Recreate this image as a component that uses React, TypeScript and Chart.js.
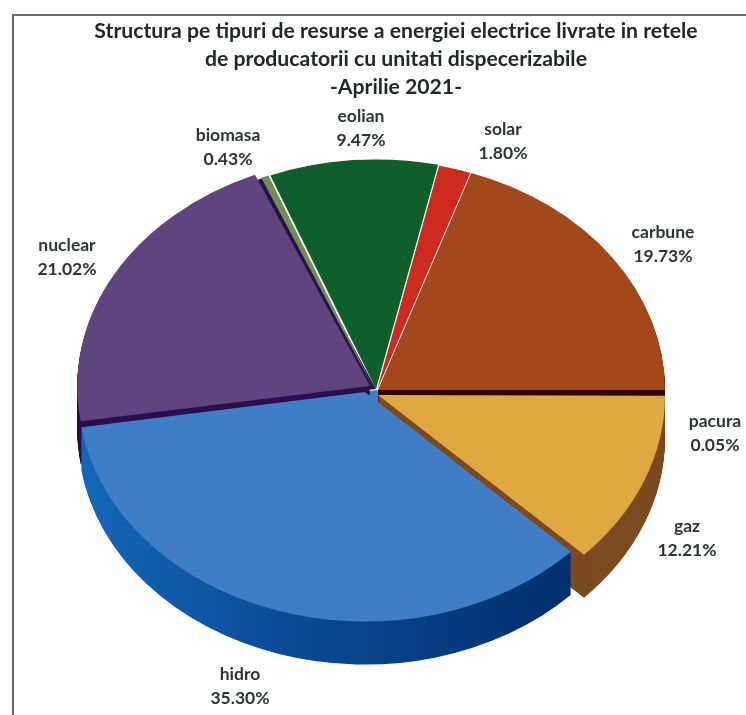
import React, { useEffect, useRef } from "react";
import { Chart, registerables } from "chart.js";

Chart.register(...registerables);

const categories = ["pacura", "gaz", "hidro", "nuclear", "biomasa", "eolian", "solar", "carbune"];
const shares = [0.05, 12.21, 35.3, 21.02, 0.43, 9.47, 1.8, 19.73];
const shareLabels = ["0.05%", "12.21%", "35.30%", "21.02%", "0.43%", "9.47%", "1.80%", "19.73%"];
const titleLines = [
  "Structura pe tipuri de resurse a energiei electrice livrate in retele",
  "de producatorii cu unitati dispecerizabile",
  "-Aprilie 2021-",
];

const topColors = ["#2a0f04", "#e0a841", "#3f7ec6", "#60447e", "#6f8f52", "#0e5f2c", "#cf2a1f", "#a4481c"];
const wallColors = ["#2a0f04", "#7b4a1f", "#0a4a96", "#2a0f50", "#3c5028", "#07361a", "#7c120c", "#300400"];

// Tilt of the pie: the circle is squashed vertically and extruded downwards.
const TILT = 0.8;
const DEPTH = 43;
const PIE_SHIFT_X = -18;
// Exploded position of each slice relative to the pie centre, in pixels.
const sliceShifts = [
  [0, 5], [0, 5], [-13, 2], [-8, -4], [-4, -1], [-2, -1], [-1, 0], [0, 0],
];
// Horizontal stretch of each slice around its own apex.
const sliceStretch = [1, 1, 1, 1.02, 1, 1, 1, 1];
// Slices whose side wall can be seen; the far slices only show their top face.
const hasWall = [true, true, true, true, false, false, false, true];
// Painting order, back of the pie first.
const paintOrder = [7, 6, 5, 4, 3, 0, 1, 2];
// Copies laid underneath the others, so the exploded apexes leave no hole.
const HIDRO_BACKING = [-1, 0];
const NUCLEAR_BACKING = [-2, -1];
// Centre of each two-line slice label.
const labelAnchors = [
  [715, 433], [687, 538], [240, 686], [67, 257], [228, 147], [361, 128], [503, 141], [663, 244],
];

const tiltedPie = {
  id: "tiltedPie",
  beforeDatasetDraw(chart: any, args: any) {
    const { ctx } = chart;
    const arcs = args.meta.data;
    const placeAt = (arc: any, dx: number, dy: number, stretch: number, paint: () => void) => {
      ctx.save();
      ctx.translate(arc.x + PIE_SHIFT_X + dx, arc.y + dy);
      ctx.scale(stretch, TILT);
      ctx.translate(-arc.x, -arc.y);
      paint();
      ctx.restore();
    };
    const hidroWall = ctx.createLinearGradient(arcs[2].x - 290, 0, arcs[2].x + 190, 0);
    hidroWall.addColorStop(0, "#1468b8");
    hidroWall.addColorStop(0.45, "#0a4a96");
    hidroWall.addColorStop(1, "#04306f");

    placeAt(arcs[2], HIDRO_BACKING[0], HIDRO_BACKING[1], 1, () => arcs[2].draw(ctx));
    const nuclearTop = arcs[3].options;
    arcs[3].options = { ...nuclearTop, backgroundColor: wallColors[3] };
    placeAt(arcs[3], NUCLEAR_BACKING[0], NUCLEAR_BACKING[1], 1, () => arcs[3].draw(ctx));
    arcs[3].options = nuclearTop;

    paintOrder.forEach((i) => {
      const arc = arcs[i];
      const own = arc.options;
      const [dx, dy] = sliceShifts[i];
      if (hasWall[i]) {
        arc.options = { ...own, backgroundColor: i === 2 ? hidroWall : wallColors[i] };
        for (let drop = DEPTH; drop > 0; drop -= 1) {
          placeAt(arc, dx, dy + drop, sliceStretch[i], () => arc.draw(ctx));
        }
        arc.options = own;
      }
      placeAt(arc, dx, dy, sliceStretch[i], () => arc.draw(ctx));
    });
    return false;
  },
};

const frameAndLabels = {
  id: "frameAndLabels",
  beforeDraw(chart: any) {
    const { ctx, width, height } = chart;
    ctx.save();
    ctx.fillStyle = "#ffffff";
    ctx.fillRect(0, 0, width, height);
    ctx.strokeStyle = "#6a6a6a";
    ctx.lineWidth = 2;
    ctx.beginPath();
    ctx.moveTo(13, height);
    ctx.lineTo(13, 15);
    ctx.lineTo(width, 15);
    ctx.stroke();
    ctx.restore();
  },
  afterDraw(chart: any) {
    const { ctx } = chart;
    ctx.save();
    ctx.font = "bold 17.5px Lato";
    ctx.fillStyle = "#2f3236";
    ctx.textAlign = "center";
    ctx.textBaseline = "middle";
    categories.forEach((name, i) => {
      const [x, y] = labelAnchors[i];
      ctx.fillText(name, x, y - 12);
      ctx.fillText(shareLabels[i], x, y + 12);
    });
    ctx.restore();
  },
};

export default function App() {
  const ref = useRef<HTMLCanvasElement>(null);

  useEffect(() => {
    document.body.style.margin = "0";
    const chart = new Chart(ref.current!, {
      type: "pie",
      data: {
        labels: categories,
        datasets: [{ data: shares, backgroundColor: topColors, borderWidth: 0 }],
      },
      options: {
        responsive: false,
        animation: false,
        rotation: 90,
        layout: { padding: { left: 46, right: 0, top: 0, bottom: 38 } },
        plugins: {
          legend: { display: false },
          tooltip: { enabled: false },
          title: {
            display: true,
            text: titleLines,
            color: "#23262a",
            font: { family: "Lato", size: 21.2, weight: "bold", lineHeight: 28 / 21.2 },
            padding: { top: 17, bottom: 2 },
          },
        },
      },
      plugins: [tiltedPie, frameAndLabels],
    });
    return () => chart.destroy();
  }, []);

  return <canvas ref={ref} width={746} height={715} style={{ display: "block" }} />;
}
